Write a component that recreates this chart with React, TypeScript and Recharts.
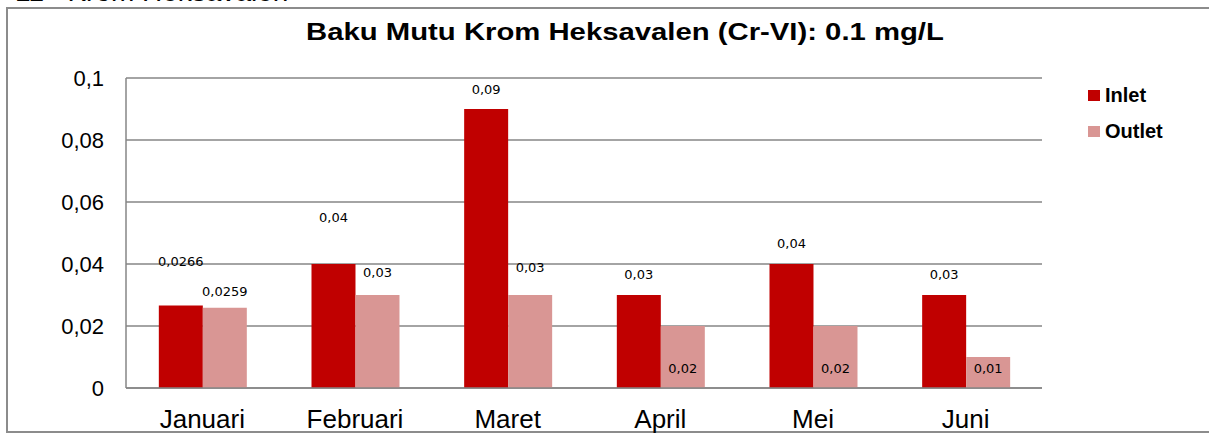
import { Bar, BarChart, CartesianGrid, LabelList, Legend, XAxis, YAxis } from "recharts";

const months = ["Januari", "Februari", "Maret", "April", "Mei", "Juni"];
const inlet = [0.0266, 0.04, 0.09, 0.03, 0.04, 0.03];
const outlet = [0.0259, 0.03, 0.03, 0.02, 0.02, 0.01];
const yTicks = [0, 0.02, 0.04, 0.06, 0.08, 0.1];

// how far each data label sits above its bar top (negative = inside the bar)
const inletLabelLift = [44, 47, 20, 21, 21, 21];
const outletLabelLift = [16, 23, 28, -42, -42, -11];

const INLET_COLOR = "#C00000";
const OUTLET_COLOR = "#D99694";
const GRID = "#868686";
const FONT = "'Liberation Sans', Arial, sans-serif";

const data = months.map((m, i) => ({ month: m, inlet: inlet[i], outlet: outlet[i] }));

const comma = (v: number) => String(v).replace(".", ",");

function makeLabel(lifts: number[]) {
  return (props: any) => {
    const { x, y, width, value, index } = props;
    return (
      <text
        x={Number(x) + Number(width) / 2}
        y={Number(y) - lifts[index]}
        textAnchor="middle"
        dominantBaseline="central"
        fontSize={13}
        fontFamily="'DejaVu Sans', sans-serif"
        fill="#000"
      >
        {comma(value)}
      </text>
    );
  };
}

function LegendBox() {
  const items = [
    { name: "Inlet", color: INLET_COLOR },
    { name: "Outlet", color: OUTLET_COLOR },
  ];
  return (
    <div>
      {items.map((it) => (
        <div
          key={it.name}
          style={{ display: "flex", alignItems: "center", height: 36, fontFamily: FONT, fontWeight: "bold", fontSize: 20 }}
        >
          <span style={{ width: 12, height: 11, background: it.color, marginRight: 5, display: "inline-block" }} />
          {it.name}
        </div>
      ))}
    </div>
  );
}

export default function App() {
  return (
    <div style={{ position: "absolute", left: 0, top: 0, width: 1209, height: 433, overflow: "hidden", background: "#fff" }}>
      {/* heading of the page above the chart, mostly cut off as in the source */}
      <div
        style={{
          position: "absolute",
          left: 15,
          top: -24,
          fontFamily: FONT,
          fontSize: 28,
          lineHeight: "32px",
          whiteSpace: "pre",
        }}
      >
        {"11   Krom Heksavalen"}
      </div>
      <div
        style={{
          position: "absolute",
          left: 6,
          top: 7,
          width: 1230,
          height: 422,
          border: "2px solid #8c8c8c",
        }}
      />
      <div
        style={{
          position: "absolute",
          left: 625,
          top: 18,
          transform: "translateX(-50%) scaleX(1.22)",
          fontFamily: FONT,
          fontWeight: "bold",
          fontSize: 24,
          lineHeight: "28px",
          whiteSpace: "nowrap",
        }}
      >
        Baku Mutu Krom Heksavalen (Cr-VI): 0.1 mg/L
      </div>
      <div style={{ position: "absolute", left: 0, top: 0 }}>
        <BarChart
          width={1209}
          height={433}
          data={data}
          margin={{ top: 78, right: 167, left: 0, bottom: 0 }}
          barCategoryGap="21.5%"
          barGap={0}
        >
          <CartesianGrid vertical={false} stroke={GRID} strokeWidth={1.5} />
          <XAxis
            dataKey="month"
            height={45}
            axisLine={{ stroke: GRID, strokeWidth: 1.5 }}
            tickLine={false}
            tickSize={0}
            tickMargin={22}
            tick={{ fill: "#000", fontSize: 26, fontFamily: FONT }}
            interval={0}
          />
          <YAxis
            width={126}
            domain={[0, 0.1]}
            ticks={yTicks}
            axisLine={{ stroke: GRID, strokeWidth: 1.5 }}
            tickLine={false}
            tickSize={0}
            tickMargin={22}
            tickFormatter={comma}
            tick={{ fill: "#000", fontSize: 22, fontFamily: FONT }}
          />
          <Legend
            layout="vertical"
            align="center"
            verticalAlign="middle"
            content={() => <LegendBox />}
            wrapperStyle={{ left: 1088, top: 77, width: 110 }}
          />
          <Bar dataKey="inlet" name="Inlet" fill={INLET_COLOR} isAnimationActive={false}>
            <LabelList dataKey="inlet" content={makeLabel(inletLabelLift)} />
          </Bar>
          <Bar dataKey="outlet" name="Outlet" fill={OUTLET_COLOR} isAnimationActive={false}>
            <LabelList dataKey="outlet" content={makeLabel(outletLabelLift)} />
          </Bar>
        </BarChart>
      </div>
    </div>
  );
}
